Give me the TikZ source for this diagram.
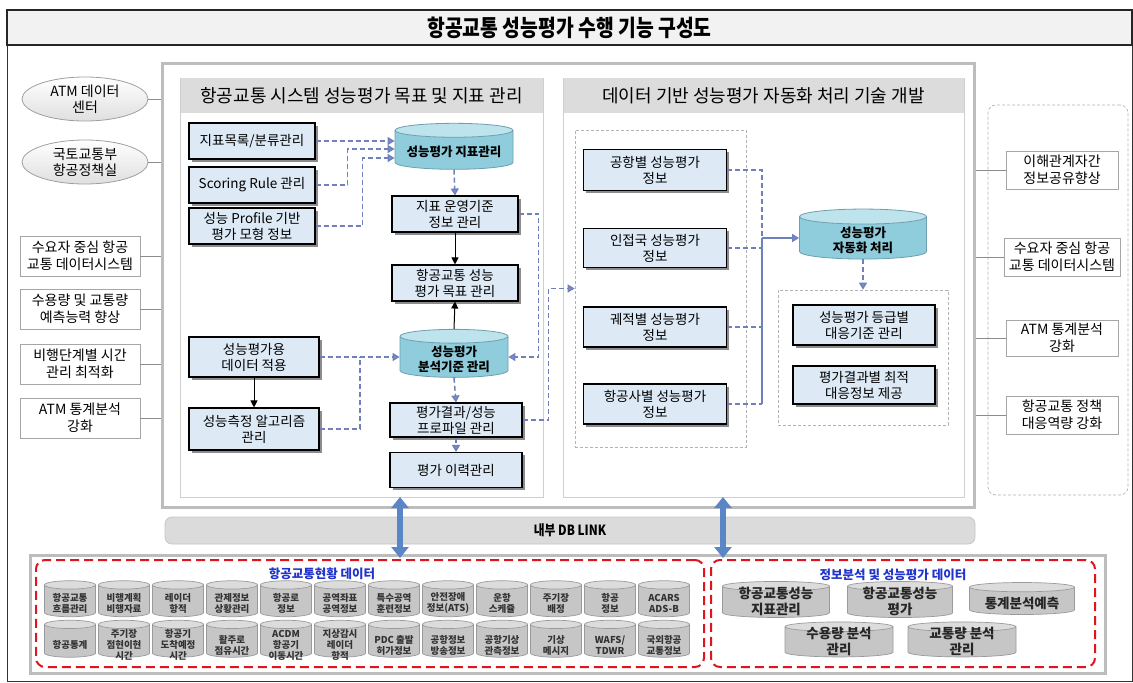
\documentclass[tikz,border=0pt]{standalone}
\usepackage{fontspec}
\setmainfont{Noto Sans CJK KR}
\newfontfamily\krt[FakeStretch=0.84]{Noto Sans CJK KR}
\usetikzlibrary{shapes.geometric,arrows.meta,shadows,calc}
\definecolor{boxblue}{HTML}{DDEAF6}
\definecolor{cylbody}{HTML}{8FCCDC}
\definecolor{cyltop}{HTML}{BDE3EC}
\definecolor{cylline}{HTML}{6F9FAE}
\definecolor{gcylbody}{HTML}{C6C6C6}
\definecolor{gcyltop}{HTML}{DCDCDC}
\definecolor{gcylline}{HTML}{9A9A9A}
\definecolor{dashblue}{HTML}{6F80BC}
\definecolor{tipblue}{HTML}{7B8FD0}
\definecolor{dbblue}{HTML}{5B86C5}
\definecolor{framegray}{HTML}{BDBDBD}
\definecolor{panelgray}{HTML}{CFCFCF}
\definecolor{headgray}{HTML}{DCDCDC}
\definecolor{redd}{HTML}{E0141E}
\definecolor{titleblue}{HTML}{2233CC}
\definecolor{linegray}{HTML}{8C8C8C}
\newcommand\cw[1]{\rule{#1pt}{0pt}}
\begin{document}
\begin{tikzpicture}[x=1pt,y=-1pt,
  txt/.style={font=\fontsize{13.5}{16}\selectfont, align=center, inner sep=0pt},
  bbox/.style={txt, draw=black, line width=1.1pt, fill=boxblue,
    minimum width=126pt, minimum height=36pt,
    drop shadow={shadow xshift=2.5pt, shadow yshift=-2.5pt, fill=black, opacity=0.45}},
  lbox/.style={txt, font=\fontsize{14}{17}\selectfont, draw=gray!70, line width=0.8pt, fill=white,
    minimum width=120pt, minimum height=40pt},
  lell/.style={ellipse, txt, font=\fontsize{14}{16}\selectfont, draw=gray!75, line width=0.8pt,
    top color=white, bottom color=gray!25, minimum width=126pt, minimum height=44pt},
  cyl/.style={cylinder, shape border rotate=90, aspect=0.12, draw=cylline, line width=0.8pt,
    cylinder uses custom fill, cylinder body fill=cylbody, cylinder end fill=cyltop, inner sep=0pt},
  cyltxt/.style={txt, font=\bfseries\fontsize{12.5}{15}\selectfont},
  gcyl/.style={cylinder, shape border rotate=90, aspect=0.17, draw=gcylline, line width=0.7pt,
    cylinder uses custom fill, cylinder body fill=gcylbody, cylinder end fill=gcyltop, inner sep=0pt},
  gtxt/.style={txt, font=\bfseries\fontsize{9.5}{11}\selectfont, text=black!80},
  btxt/.style={txt, font=\bfseries\fontsize{13.5}{16}\selectfont, text=black!85},
  dconn/.style={draw=dashblue, line width=1.5pt, dash pattern=on 5pt off 3pt},
  dtip/.style={dconn, -{Triangle[length=7pt,width=8pt,fill=tipblue,sep=0pt]}},
  sconn/.style={draw=black, line width=1pt, -{Triangle[length=7pt,width=7pt]}},
  gline/.style={draw=linegray, line width=0.7pt},
  redbox/.style={draw=redd, line width=2pt, dash pattern=on 9pt off 5pt, rounded corners=9pt},
  dbarrow/.style={draw=dbblue, line width=6pt, {Triangle[length=11pt,width=17pt]}-{Triangle[length=11pt,width=17pt]}},
  grpbox/.style={draw=gray!60, line width=0.7pt, dash pattern=on 3pt off 2pt}
]
\useasboundingbox (0,0) rectangle (1133,683);
% outer frame and title
\node[draw=black!80, line width=1pt, minimum width=1125pt, minimum height=671pt, inner sep=0] (outer) at (569.5,345.5) {};
\node[draw=black!85, line width=1.5pt, fill=black!5, minimum width=1125pt, minimum height=35pt, inner sep=0,
  font=\krt\bfseries\fontsize{23}{26}\selectfont] (title) at (569.5,27.5) {항공교통 성능평가 수행 기능 구성도};

% main box and panels
\node[draw=framegray, line width=3pt, minimum width=812pt, minimum height=444pt, inner sep=0] (main) at (568,285) {};
\node[draw=panelgray, line width=1pt, fill=white, minimum width=363pt, minimum height=419pt, inner sep=0] (pan1) at (361.5,287.5) {};
\node[draw=panelgray, line width=1pt, fill=white, minimum width=401pt, minimum height=419pt, inner sep=0] (pan2) at (763.5,287.5) {};
\node[fill=headgray, minimum width=362pt, minimum height=35pt, inner sep=0, font=\fontsize{18}{20}\selectfont] (h1) at (361.5,95.5) {항공교통 시스템 성능평가 목표 및 지표 관리};
\node[fill=headgray, minimum width=400pt, minimum height=35pt, inner sep=0, font=\fontsize{18}{20}\selectfont] (h2) at (763.5,95.5) {데이터 기반 성능평가 자동화 처리 기술 개발};

% left column
\node[lell] (e1) at (85,99) {ATM 데이터\\센터};
\node[lell] (e2) at (85,162) {국토교통부\\항공정책실};
\node[lbox] (l3) at (80,256) {수요자 중심 항공\\교통 데이터시스템};
\node[lbox] (l4) at (80,309) {수용량 및 교통량\\예측능력 향상};
\node[lbox] (l5) at (80,364) {비행단계별 시간\\관리 최적화};
\node[lbox] (l6) at (80,418) {ATM 통계분석\\강화};
\foreach \n in {e1,e2,l3,l4,l5,l6} { \draw[gline] (\n.east) -- (\n.east -| main.west); }

% right column
\node[draw=gray!60, line width=0.7pt, dash pattern=on 3pt off 2pt, rounded corners=8pt, minimum width=140pt, minimum height=390pt, inner sep=0] (rframe) at (1058,300) {};
\node[lbox, minimum width=112pt, minimum height=38pt] (s1) at (1062,170) {이해관계자간\\정보공유향상};
\node[lbox, minimum width=116pt, minimum height=38pt] (s2) at (1062,257) {수요자 중심 항공\\교통 데이터시스템};
\node[lbox, minimum width=112pt, minimum height=36pt] (s3) at (1062,338) {ATM 통계분석\\강화};
\node[lbox, minimum width=112pt, minimum height=38pt] (s4) at (1062,415) {항공교통 정책\\대응역량 강화};
\foreach \n in {s1,s2,s3,s4} { \draw[gline] (\n.west) -- (\n.west -| main.east); }

% panel 1 contents
\node[bbox] (a1) at (252,141) {지표목록/분류관리};
\node[bbox] (a2) at (252,185) {Scoring Rule 관리};
\node[bbox] (a3) at (252,226) {성능 Profile 기반\\평가 모형 정보};
\node[cyl, minimum width=118pt, minimum height=46pt] (c1) at (454,150) {\cw{116}};
\node[cyltxt] (c1t) at (454,152) {성능평가 지표관리};
\node[bbox] (b1) at (455,214) {지표 운영기준\\정보 관리};
\node[bbox] (b2) at (455,283) {항공교통 성능\\평가 목표 관리};
\node[bbox, minimum width=130pt, minimum height=40pt] (d1) at (254,357) {성능평가용\\데이터 적용};
\node[bbox, minimum width=130pt, minimum height=42pt] (d2) at (254,429) {성능측정 알고리즘\\관리};
\node[cyl, aspect=0.13, minimum width=108pt, minimum height=48pt] (c2) at (454,357) {\cw{106}};
\node[cyltxt] (c2t) at (454,359) {성능평가\\분석기준 관리};
\node[bbox, minimum width=132pt, minimum height=34pt] (b3) at (456,420) {평가결과/성능\\프로파일 관리};
\node[bbox, minimum width=132pt, minimum height=35pt] (b4) at (456,470) {평가 이력관리};

\draw[dtip] (a1.east) -- (a1.east -| c1.west);
\draw[dtip] (a2.east) -- ++(32,0) |- ($(c1.west)+(0,-1)$);
\draw[dtip] (a3.east) -- ++(47,0) |- ($(c1.west)+(0,8)$);
\draw[dtip] (c1.south) -- (b1.north);
\draw[sconn] (b1.south) -- (b2.north);
\draw[sconn] (c2.north) -- (b2.south);
\draw[sconn] (d1.south) -- (d2.north);
\draw[dtip] (d1.east) -- (d1.east -| c2.west);
\coordinate (j1) at (360,357);
\draw[dconn] (d2.east) -| (j1);
\draw[dtip] (c2.south) -- (b3.north);
\draw[dtip] (b3.south) -- (b4.north);
\draw[dtip] (b1.east) -- ++(20,0) |- (c2.east);

% panel 2 contents
\node[grpbox, minimum width=171pt, minimum height=317pt, inner sep=0] (g1) at (660.5,288.5) {};
\node[grpbox, minimum width=170pt, minimum height=135pt, inner sep=0] (g2) at (863,357.5) {};
\draw[dtip] (b3.east) -- ++(26,0) |- (g1.west);
\node[bbox, minimum width=143pt, minimum height=41pt] (p1) at (655,170) {공항별 성능평가\\정보};
\node[bbox, minimum width=143pt, minimum height=39pt] (p2) at (655,248) {인접국 성능평가\\정보};
\node[bbox, minimum width=143pt, minimum height=40pt] (p3) at (655,327) {궤적별 성능평가\\정보};
\node[bbox, minimum width=143pt, minimum height=40pt] (p4) at (655,404) {항공사별 성능평가\\정보};
\node[cyl, aspect=0.12, minimum width=127pt, minimum height=50pt] (c3) at (863,238) {\cw{125}};
\node[cyltxt] (c3t) at (863,240) {성능평가\\자동화 처리};
\node[bbox, minimum width=142pt, minimum height=40pt] (q1) at (864,325) {성능평가 등급별\\대응기준 관리};
\node[bbox, minimum width=142pt, minimum height=38pt] (q2) at (864,385) {평가결과별 최적\\대응정보 제공};
\coordinate (jn) at (762,238);
\draw[dconn] (p1.east) -| (jn);
\draw[dconn] (p2.east) -- (p2.east -| jn);
\draw[dconn] (p3.east) -- (p3.east -| jn);
\draw[dconn] (p4.east) -- (p4.east -| jn);
\draw[draw=dashblue, line width=1.5pt] (p4.east -| jn) -- (jn);
\draw[draw=dashblue, line width=1.5pt, -{Triangle[length=7pt,width=8pt,fill=tipblue]}] (jn) -- (c3.west);
\draw[dtip] (c3.south) -- (g2.north);

% DB link
\node[draw=gray!45, line width=0.8pt, fill=gray!28, rounded corners=7pt, minimum width=810pt, minimum height=27pt, inner sep=0,
  font=\krt\bfseries\fontsize{14}{16}\selectfont] (db) at (570,530.5) {내부 DB LINK};

% bottom area
\node[draw=framegray, line width=3pt, fill=white, minimum width=1075pt, minimum height=118pt, inner sep=0] (bot) at (567.5,614) {};
\node[redbox, minimum width=668pt, minimum height=107pt, inner sep=0] (redL) at (370,613.5) {};
\node[redbox, minimum width=384pt, minimum height=107pt, inner sep=0] (redR) at (903,613.5) {};
\coordinate (u1) at (400,497); \coordinate (v1) at (400,558);
\coordinate (u2) at (723,497); \coordinate (v2) at (723,558);
\draw[dbarrow] (u1) -- (v1);
\draw[dbarrow] (u2) -- (v2);

\node[font=\bfseries\fontsize{12.5}{14}\selectfont, text=titleblue, inner sep=0] (tl) at (322,574) {항공교통현황 데이터};
\node[font=\bfseries\fontsize{12.5}{14}\selectfont, text=titleblue, inner sep=0] (tr) at (893,575) {정보분석 및 성능평가 데이터};

\foreach \lab [count=\i from 0] in {{항공교통\\흐름관리},{비행계획\\비행자료},{레이더\\항적},{관제정보\\상황관리},{항공로\\정보},{공역좌표\\공역정보},{특수공역\\훈련정보},{안전장애\\정보(ATS)},{운항\\스케쥴},{주기장\\배정},{항공\\정보},{ACARS\\ADS-B}}
  { \node[gcyl, minimum width=51pt, minimum height=36pt] (ra\i) at ({70+54*\i},601) {\cw{49}};
    \node[gtxt] (rat\i) at ({70+54*\i},603) {\lab}; }
\foreach \lab [count=\i from 0] in {{항공통계},{주기장\\점현이현\\시간},{항공기\\도착예정\\시간},{활주로\\점유시간},{ACDM\\항공기\\이동시간},{지상감시\\레이더\\항적},{PDC 출발\\허가정보},{공항정보\\방송정보},{공항기상\\관측정보},{기상\\메시지},{WAFS/\\TDWR},{국외항공\\교통정보}}
  { \node[gcyl, minimum width=51pt, minimum height=37pt] (rb\i) at ({70+54*\i},641) {\cw{49}};
    \node[gtxt] (rbt\i) at ({70+54*\i},645) {\lab}; }

\node[gcyl, aspect=0.09, minimum width=107pt, minimum height=36pt] (k1) at (776,602) {\cw{105}};
\node[btxt] (k1t) at (776,601) {항공교통성능\\지표관리};
\node[gcyl, aspect=0.09, minimum width=105pt, minimum height=36pt] (k2) at (900,602) {\cw{103}};
\node[btxt] (k2t) at (900,601) {항공교통성능\\평가};
\node[gcyl, aspect=0.09, minimum width=105pt, minimum height=32pt] (k3) at (1022,601) {\cw{103}};
\node[btxt] (k3t) at (1022,603) {통계분석예측};
\node[gcyl, aspect=0.09, minimum width=108pt, minimum height=35pt] (k4) at (839,642) {\cw{106}};
\node[btxt] (k4t) at (839,641) {수용량 분석\\관리};
\node[gcyl, aspect=0.09, minimum width=108pt, minimum height=35pt] (k5) at (962,642) {\cw{106}};
\node[btxt] (k5t) at (962,641) {교통량 분석\\관리};
\end{tikzpicture}
\end{document}
